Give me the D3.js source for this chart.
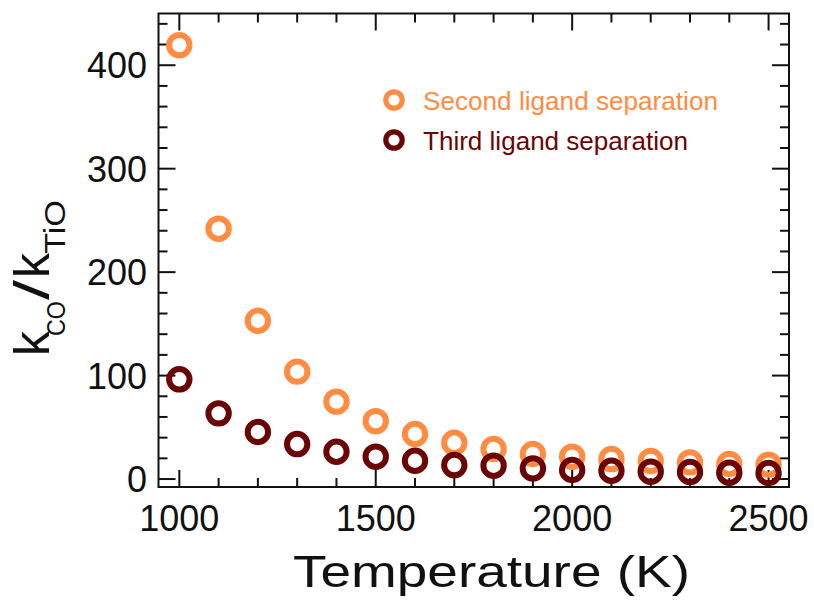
<!DOCTYPE html>
<html>
<head>
<meta charset="utf-8">
<script src="https://cdn.jsdelivr.net/npm/d3@7"></script>
<style>
  html, body { margin: 0; padding: 0; background: #fff; }
  svg { display: block; font-family: "Liberation Sans", Arial, sans-serif; }
</style>
</head>
<body>
<svg id="chart" width="814" height="601"></svg>
<script>
// ---- data ----
const temperatures = [1000, 1100, 1200, 1300, 1400, 1500, 1600, 1700, 1800, 1900, 2000, 2100, 2200, 2300, 2400, 2500];
const secondLigand = [419.4, 242, 153, 103.8, 74.8, 56, 43.5, 35.1, 29, 24.2, 21.6, 19.3, 17.4, 16.1, 14.5, 13.9];
const thirdLigand  = [96.4, 63.5, 45.5, 33.8, 26.4, 21.6, 17.7, 13.5, 12.9, 10.3, 8.7, 8.0, 7.1, 6.8, 6.1, 5.8];
const seriesNames = ["Second ligand separation", "Third ligand separation"];
const seriesColors = ["#ff8c42", "#6b0505"];
const xTickLabels = [1000, 1500, 2000, 2500];
const yTickLabels = [0, 100, 200, 300, 400];

// ---- layout ----
const svg = d3.select("#chart");
const L = 158.5, R = 789, T = 13.5, B = 487;
const x = d3.scaleLinear().domain([947, 2552]).range([L, R]);
const y = d3.scaleLinear().domain([-7.7, 450]).range([B, T]);

const ink = "#111";
const xMinor = d3.range(1000, 2501, 100);
const yMinor = d3.range(0, 441, 20);

// frame
svg.append("rect").attr("x", L).attr("y", T).attr("width", R - L).attr("height", B - T)
  .attr("fill", "none").attr("stroke", ink).attr("stroke-width", 2);

// ticks (inward)
const tickG = svg.append("g").attr("stroke", ink).attr("stroke-width", 2);
xMinor.forEach(v => {
  const len = (v % 500 === 0) ? 17 : 9;
  tickG.append("line").attr("x1", x(v)).attr("x2", x(v)).attr("y1", B).attr("y2", B - len);
  tickG.append("line").attr("x1", x(v)).attr("x2", x(v)).attr("y1", T).attr("y2", T + len);
});
yMinor.forEach(v => {
  const len = (v % 100 === 0) ? 17 : 9;
  tickG.append("line").attr("x1", L).attr("x2", L + len).attr("y1", y(v)).attr("y2", y(v));
  tickG.append("line").attr("x1", R).attr("x2", R - len).attr("y1", y(v)).attr("y2", y(v));
});

// tick labels
svg.append("g").selectAll("text").data(xTickLabels).join("text")
  .attr("x", d => x(d)).attr("y", 531)
  .attr("text-anchor", "middle").attr("font-size", 36).attr("fill", ink)
  .text(d => d);
svg.append("g").selectAll("text").data(yTickLabels).join("text")
  .attr("x", 147).attr("y", d => y(d) + 13)
  .attr("text-anchor", "end").attr("font-size", 36).attr("fill", ink)
  .text(d => d);

// axis titles
svg.append("text").attr("x", 293).attr("y", 587)
  .attr("font-size", 45).attr("fill", ink)
  .attr("textLength", 397).attr("lengthAdjust", "spacingAndGlyphs")
  .text("Temperature (K)");

const yt = svg.append("text")
  .attr("transform", "translate(48.5,355) rotate(-90)")
  .attr("fill", ink);
yt.append("tspan").attr("x", -1).attr("y", 0).attr("font-size", 50).text("k");
yt.append("tspan").attr("x", 19).attr("y", 16.5).attr("font-size", 26)
  .attr("textLength", 35).attr("lengthAdjust", "spacingAndGlyphs").text("CO");
yt.append("tspan").attr("x", 55).attr("y", 0).attr("font-size", 50)
  .attr("textLength", 20).attr("lengthAdjust", "spacingAndGlyphs").text("/");
yt.append("tspan").attr("x", 77).attr("y", 0).attr("font-size", 50).text("k");
yt.append("tspan").attr("x", 101).attr("y", 16.5).attr("font-size", 30)
  .attr("textLength", 54).attr("lengthAdjust", "spacingAndGlyphs").text("TiO");

// data markers
const series = [secondLigand, thirdLigand];
series.forEach((vals, i) => {
  svg.append("g").selectAll("circle").data(temperatures).join("circle")
    .attr("cx", d => x(d))
    .attr("cy", (d, j) => y(vals[j]))
    .attr("r", 10.2)
    .attr("fill", "none")
    .attr("stroke", seriesColors[i])
    .attr("stroke-width", 6);
});

// legend
const legY = [100, 140];
const legLen = [295, 265];
seriesNames.forEach((name, i) => {
  svg.append("circle").attr("cx", 394).attr("cy", legY[i]).attr("r", 8.2)
    .attr("fill", "none").attr("stroke", seriesColors[i]).attr("stroke-width", 5.2);
  svg.append("text").attr("x", 423).attr("y", legY[i] + 9.5)
    .attr("font-size", 25).attr("fill", seriesColors[i])
    .attr("textLength", legLen[i]).attr("lengthAdjust", "spacingAndGlyphs")
    .text(name);
});
</script>
</body>
</html>
